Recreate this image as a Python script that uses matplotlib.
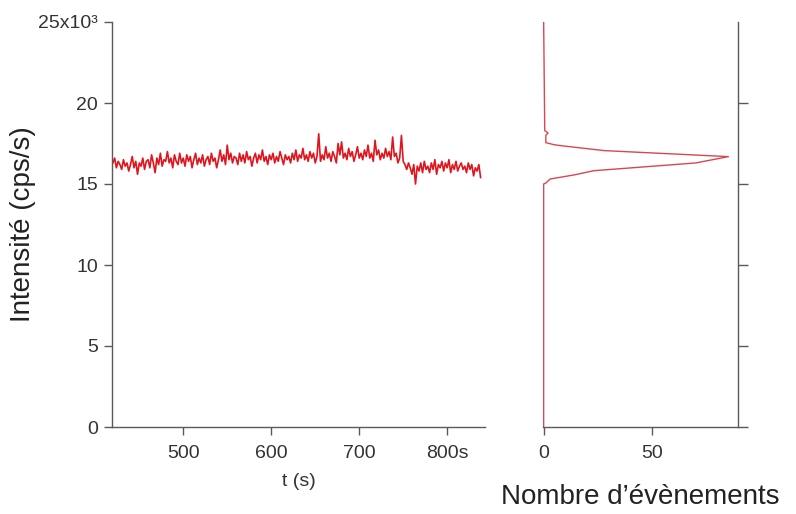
import numpy as np
import matplotlib
matplotlib.use("Agg")
import matplotlib.pyplot as plt
from matplotlib.ticker import FixedLocator, FixedFormatter

plt.rcParams['font.family'] = ['Liberation Sans', 'DejaVu Sans']

# ── time trace (kcps/s, every 2 s from 420 s) ──
t_start, t_step = 420, 2
trace_k = [
    16.3, 16.6, 16.0, 16.4, 16.2, 15.9, 16.5, 16.1, 16.3, 15.8,
    16.2, 16.7, 16.0, 16.4, 15.6, 16.3, 16.1, 16.6, 15.9, 16.4,
    16.5, 16.0, 16.8, 16.3, 15.7, 16.6, 16.2, 16.9, 16.1, 16.5,
    16.4, 17.0, 16.3, 16.6, 16.0, 16.8, 16.4, 16.2, 16.9, 16.3,
    16.6, 16.1, 16.8, 16.4, 16.7, 16.0, 16.5, 16.9, 16.2, 16.6,
    16.3, 16.8, 16.1, 16.5, 16.7, 16.2, 16.9, 16.4, 16.6, 16.0,
    16.5, 17.1, 16.4, 16.8, 16.2, 17.4, 16.5, 16.9, 16.3, 16.7,
    16.6, 16.2, 16.9, 16.4, 16.8, 16.3, 17.0, 16.5, 16.7, 16.1,
    16.6, 16.9, 16.3, 16.8, 16.5, 17.1, 16.4, 16.7, 16.2, 16.8,
    16.5, 16.9, 16.3, 16.7, 16.4, 17.0, 16.6, 16.2, 16.8, 16.5,
    16.7, 16.3, 16.9, 16.5, 17.1, 16.4, 16.8, 16.6, 17.2, 16.5,
    16.8, 16.4, 17.0, 16.6, 16.9, 16.3, 16.7, 18.1, 16.4, 16.8,
    16.5, 17.3, 16.6, 16.9, 16.4, 17.0, 16.7, 16.3, 17.5, 16.8,
    17.6, 16.6, 16.9, 16.5, 17.2, 16.7, 17.0, 16.4, 16.8, 17.3,
    16.6, 16.9, 16.5, 17.1, 16.7, 17.4, 16.6, 16.9, 16.4, 17.7,
    16.8, 17.1, 16.5, 16.9, 16.6, 17.2, 16.7, 17.0, 16.5, 17.9,
    16.7, 16.9, 16.3, 16.6, 18.0, 16.4, 16.2, 15.9, 16.3, 16.0,
    15.6, 16.2, 15.0, 16.1, 15.8, 16.3, 15.7, 16.4, 15.9, 16.1,
    15.7, 16.3, 15.9, 16.5, 15.6, 16.2, 16.0, 16.4, 15.8, 16.3,
    16.0, 16.5, 15.7, 16.2, 15.9, 16.4, 15.8, 16.1, 16.3, 15.9,
    16.1, 15.7, 16.3, 15.9, 16.2, 15.5, 16.0, 15.8, 16.2, 15.4,
]

# ── histogram of intensities ──
hist_level = [0, 15000, 15060, 15310, 15560, 15820, 16300, 16690, 17060,
              17350, 17420, 17550, 18000, 18150, 18300, 25000]
hist_count = [0, 0, 1, 3, 14, 23, 70, 85, 28, 9, 5, 1, 1, 2, 0.5, 0]

y_ticks = [0, 5000, 10000, 15000, 20000, 25000]
y_labels = ["0", "5", "10", "15", "20", "25x10³"]
x_ticks = [500, 600, 700, 800]
x_labels = ["500", "600", "700", "800s"]

red = "#E0161E"
spine_col = "#5a5a5a"
txt_col = "#333333"

t = t_start + t_step * np.arange(len(trace_k))
trace = np.array(trace_k) * 1000

fig = plt.figure(figsize=(7.96, 5.14), dpi=100)
ax = fig.add_axes([112/796, 87/514, 373/796, 405/514])
axh = fig.add_axes([543/796, 87/514, 195/796, 405/514])

ax.plot(t, trace, color=red, lw=1.2)
ax.set_xlim(419, 843)
ax.set_ylim(0, 25000)
for s in ("top", "right"):
    ax.spines[s].set_visible(False)
for s in ("left", "bottom"):
    ax.spines[s].set_color(spine_col)
    ax.spines[s].set_linewidth(1.0)
ax.yaxis.set_major_locator(FixedLocator(y_ticks))
ax.yaxis.set_major_formatter(FixedFormatter(y_labels))
ax.xaxis.set_major_locator(FixedLocator(x_ticks))
ax.xaxis.set_major_formatter(FixedFormatter(x_labels))
ax.tick_params(axis="y", direction="out", length=6, width=1, color=spine_col,
               labelsize=14, labelcolor=txt_col, pad=4)
ax.tick_params(axis="x", direction="out", length=6, width=1, color=spine_col,
               labelsize=14, labelcolor=txt_col, pad=7)
ax.set_xlabel("t (s)", fontsize=14, color=txt_col, labelpad=8)
ax.set_ylabel("Intensité (cps/s)", fontsize=20, color="#222222", labelpad=2)

axh.plot(hist_count, hist_level, color="#D8474F", lw=1.0)
axh.set_xlim(-0.3, 89.4)
axh.set_ylim(0, 25000)
for s in ("top", "left"):
    axh.spines[s].set_visible(False)
for s in ("right", "bottom"):
    axh.spines[s].set_color(spine_col)
    axh.spines[s].set_linewidth(1.0)
axh.yaxis.tick_right()
axh.yaxis.set_major_locator(FixedLocator([0, 5000, 10000, 15000, 20000]))
axh.tick_params(axis="y", labelright=False, direction="out", length=7,
                width=1, color=spine_col)
axh.xaxis.set_major_locator(FixedLocator([0, 50]))
axh.tick_params(axis="x", direction="out", length=6, width=1, color=spine_col,
                labelsize=14, labelcolor=txt_col, pad=7)
axh.set_xlabel("Nombre d’évènements", fontsize=20, color="#222222", labelpad=16)

fig.savefig("out.png", dpi=100)
